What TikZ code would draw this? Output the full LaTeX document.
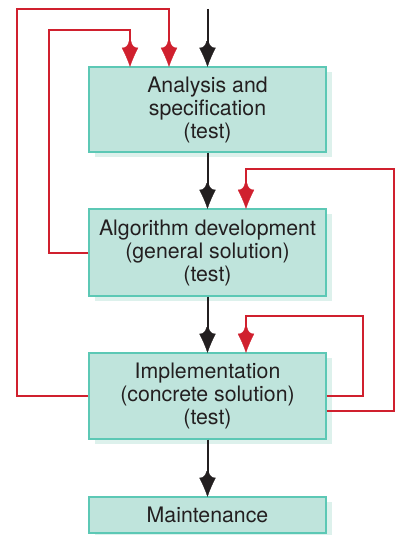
\documentclass[tikz,border=0pt]{standalone}
\usepackage{fontspec}
\setmainfont{TeX Gyre Heros}
\usetikzlibrary{arrows.meta,shadows}
\definecolor{boxfill}{HTML}{BFE4DC}
\definecolor{boxline}{HTML}{5CC8B5}
\definecolor{shadowc}{HTML}{DDF1EC}
\definecolor{redl}{HTML}{D0202E}
\definecolor{blackl}{HTML}{231F20}
\pgfdeclarearrow{
  name = Barb,
  parameters = {x},
  setup code = {
    \pgfarrowssettipend{0pt}
    \pgfarrowssetbackend{-25pt}
    \pgfarrowssetlineend{-14pt}
    \pgfarrowssetvisualbackend{-25pt}
  },
  drawing code = {
    \pgfsetlinewidth{0.3pt}
    \pgfsetmiterjoin
    \pgfpathmoveto{\pgfpoint{0pt}{0pt}}
    \pgfpathcurveto{\pgfpoint{-6pt}{2pt}}{\pgfpoint{-13pt}{5pt}}{\pgfpoint{-18.5pt}{8pt}}
    \pgfpathcurveto{\pgfpoint{-18pt}{4.5pt}}{\pgfpoint{-21pt}{1.5pt}}{\pgfpoint{-25pt}{1.0pt}}
    \pgfpathlineto{\pgfpoint{-25pt}{-1.0pt}}
    \pgfpathcurveto{\pgfpoint{-21pt}{-1.5pt}}{\pgfpoint{-18pt}{-4.5pt}}{\pgfpoint{-18.5pt}{-8pt}}
    \pgfpathcurveto{\pgfpoint{-13pt}{-5pt}}{\pgfpoint{-6pt}{-2pt}}{\pgfpoint{0pt}{0pt}}
    \pgfpathclose
    \pgfusepathqfillstroke
  },
}
\begin{document}
\begin{tikzpicture}[x=1pt,y=-1pt,
  stepbox/.style={draw=boxline, fill=boxfill, line width=1.2pt, minimum width=237pt,
    align=center, font=\fontsize{21.3}{23}\selectfont, inner sep=0pt, text=blackl,
    drop shadow={shadow xshift=6pt, shadow yshift=-5pt, fill=shadowc, opacity=1}},
  flow/.style={draw=blackl, line width=2pt, -{Barb[]}},
  back/.style={draw=redl, line width=2pt, -{Barb[]}}]
\useasboundingbox (0,0) rectangle (400,535);
\node[stepbox, minimum height=85pt] (b1) at (207.5,109.5) {Analysis and\\specification\\(test)};
\node[stepbox, minimum height=87pt] (b2) at (207.5,252.5) {Algorithm development\\(general solution)\\(test)};
\node[stepbox, minimum height=86pt] (b3) at (207.5,396) {Implementation\\(concrete solution)\\(test)};
\node[stepbox, minimum height=36pt] (b4) at (207.5,515) {Maintenance};
\coordinate (start) at (207.5,9);
\draw[flow] (start) -- (b1.north);
\draw[flow] (b1.south) -- (b2.north);
\draw[flow] (b2.south) -- (b3.north);
\draw[flow] (b3.south) -- (b4.north);
\draw[back] (b2.west) -| (49,30) -| ([xshift=-77.5pt]b1.north);
\draw[back] (b3.west) -| (17,9) -| ([xshift=-38.5pt]b1.north);
\draw[back] (b3.east) -| (363,316) -| ([xshift=38.5pt]b3.north);
\draw[back] ([yshift=-15pt]b3.east) -| (394,169) -| ([xshift=38.5pt]b2.north);
\end{tikzpicture}
\end{document}
